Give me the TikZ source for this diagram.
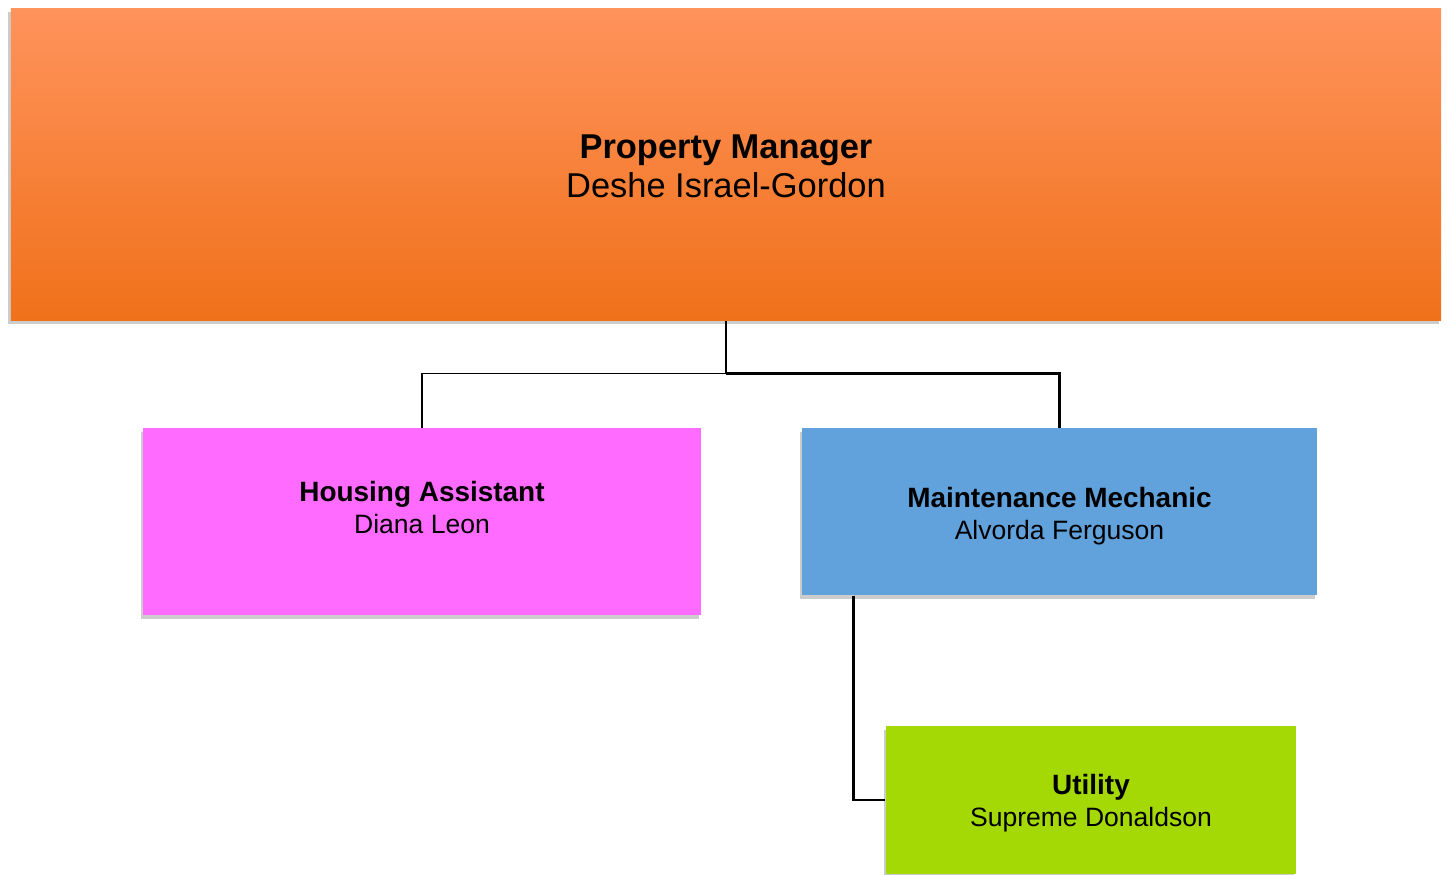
\documentclass[tikz,border=0pt]{standalone}
\usepackage{fontspec}
\setmainfont{Liberation Sans}
\usetikzlibrary{positioning, calc, shadows}
\definecolor{pmtop}{HTML}{FF935C}
\definecolor{pmmid}{HTML}{FF8129}
\definecolor{pmbot}{HTML}{F0711A}
\definecolor{hapink}{HTML}{FF6BFF}
\definecolor{mmblue}{HTML}{61A2DC}
\definecolor{utgreen}{HTML}{A5D905}
\newcommand{\jobtitle}[1]{{\fontsize{15.9}{18.2}\selectfont\bfseries #1}}

\begin{document}
\begin{tikzpicture}[line width=0.6pt,
  box/.style={rectangle, align=center, inner sep=0pt, font=\fontsize{15.1}{18.2}\selectfont,
    drop shadow={opacity=0.4, shadow xshift=-0.05cm, shadow yshift=-0.08cm}},
  link/.style={line width=1.4pt}]
\useasboundingbox (0,0) rectangle (28.94,-17.48);

% Manager on top
\node (pm) [box, top color=pmtop, middle color=pmmid, bottom color=pmbot, minimum width=28.6cm, minimum height=6.24cm, text height=1.36cm, font=\fontsize{19.6}{22.2}\selectfont] at (14.52,-3.28) {\textbf{Property Manager}\\Deshe Israel-Gordon};

% Staff boxes
\node (ha) [box, fill=hapink, minimum width=11.16cm, minimum height=3.74cm, text depth=0.56cm, below=2.14cm of pm, xshift=-6.08cm] {\jobtitle{Housing Assistant}\\Diana Leon};
\node (mm) [box, fill=mmblue, minimum width=10.3cm, minimum height=3.34cm, text height=1.22cm, below=2.14cm of pm, xshift=6.67cm] {\jobtitle{Maintenance Mechanic}\\Alvorda Ferguson};
\node (ut) [box, fill=utgreen, minimum width=8.2cm, minimum height=2.96cm, text height=1.17cm, below=2.6cm of mm, xshift=0.63cm] {\jobtitle{Utility}\\Supreme Donaldson};

% Connectors
\draw[link] (pm.south) -- ++(0,-1.06) coordinate (bus);
\draw (bus) -| (ha.north);
\draw[link] (bus) -| (mm.north);
\draw[link] ([xshift=1.04cm]mm.south west) |- (ut.west);
\end{tikzpicture}
\end{document}
